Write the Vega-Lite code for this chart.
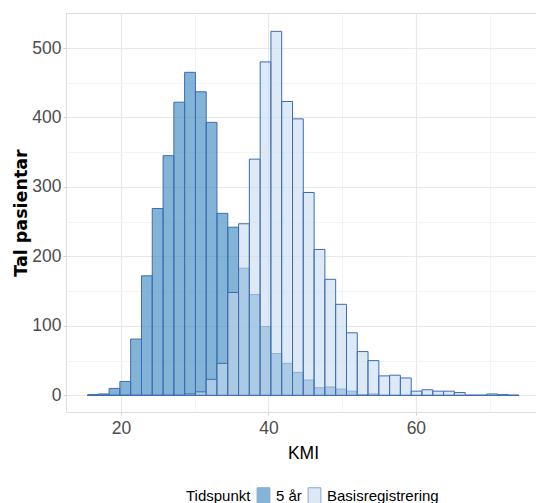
{
  "$schema": "https://vega.github.io/schema/vega-lite/v6.json",
  "autosize": {"type": "none"},
  "padding": {"left": 66, "top": 13, "right": 0, "bottom": 91},
  "width": 474,
  "height": 399,
  "background": "white",
  "config": {
    "view": {"stroke": "#dedede", "strokeWidth": 1},
    "font": "Liberation Sans, Arial, sans-serif"
  },
  "datasets": {
    "kmi": [
      {"t": "5 år", "lo": 15.46, "hi": 16.92, "n": 1},
      {"t": "5 år", "lo": 16.92, "hi": 18.39, "n": 2},
      {"t": "5 år", "lo": 18.39, "hi": 19.85, "n": 10},
      {"t": "5 år", "lo": 19.85, "hi": 21.31, "n": 20},
      {"t": "5 år", "lo": 21.31, "hi": 22.78, "n": 81},
      {"t": "5 år", "lo": 22.78, "hi": 24.24, "n": 172},
      {"t": "5 år", "lo": 24.24, "hi": 25.71, "n": 269},
      {"t": "5 år", "lo": 25.71, "hi": 27.17, "n": 345},
      {"t": "5 år", "lo": 27.17, "hi": 28.63, "n": 422},
      {"t": "5 år", "lo": 28.63, "hi": 30.10, "n": 465},
      {"t": "5 år", "lo": 30.10, "hi": 31.56, "n": 437},
      {"t": "5 år", "lo": 31.56, "hi": 33.02, "n": 393},
      {"t": "5 år", "lo": 33.02, "hi": 34.49, "n": 262},
      {"t": "5 år", "lo": 34.49, "hi": 35.95, "n": 242},
      {"t": "5 år", "lo": 35.95, "hi": 37.41, "n": 183},
      {"t": "5 år", "lo": 37.41, "hi": 38.88, "n": 145},
      {"t": "5 år", "lo": 38.88, "hi": 40.34, "n": 99},
      {"t": "5 år", "lo": 40.34, "hi": 41.80, "n": 60},
      {"t": "5 år", "lo": 41.80, "hi": 43.27, "n": 46},
      {"t": "5 år", "lo": 43.27, "hi": 44.73, "n": 33},
      {"t": "5 år", "lo": 44.73, "hi": 46.20, "n": 22},
      {"t": "5 år", "lo": 46.20, "hi": 47.66, "n": 11},
      {"t": "5 år", "lo": 47.66, "hi": 49.12, "n": 12},
      {"t": "5 år", "lo": 49.12, "hi": 50.59, "n": 9},
      {"t": "5 år", "lo": 50.59, "hi": 52.05, "n": 6},
      {"t": "5 år", "lo": 52.05, "hi": 53.51, "n": 1},
      {"t": "5 år", "lo": 53.51, "hi": 54.98, "n": 2},
      {"t": "5 år", "lo": 54.98, "hi": 56.44, "n": 0},
      {"t": "5 år", "lo": 56.44, "hi": 57.90, "n": 0},
      {"t": "5 år", "lo": 57.90, "hi": 59.37, "n": 0},
      {"t": "5 år", "lo": 59.37, "hi": 60.83, "n": 0},
      {"t": "5 år", "lo": 60.83, "hi": 62.30, "n": 0},
      {"t": "5 år", "lo": 62.30, "hi": 63.76, "n": 0},
      {"t": "5 år", "lo": 63.76, "hi": 65.22, "n": 0},
      {"t": "5 år", "lo": 65.22, "hi": 66.69, "n": 0},
      {"t": "5 år", "lo": 66.69, "hi": 68.15, "n": 0},
      {"t": "5 år", "lo": 68.15, "hi": 69.61, "n": 0},
      {"t": "5 år", "lo": 69.61, "hi": 71.08, "n": 0},
      {"t": "5 år", "lo": 71.08, "hi": 72.54, "n": 0},
      {"t": "5 år", "lo": 72.54, "hi": 74.00, "n": 0},
      {"t": "Basisregistrering", "lo": 15.46, "hi": 16.92, "n": 0},
      {"t": "Basisregistrering", "lo": 16.92, "hi": 18.39, "n": 0},
      {"t": "Basisregistrering", "lo": 18.39, "hi": 19.85, "n": 0},
      {"t": "Basisregistrering", "lo": 19.85, "hi": 21.31, "n": 0},
      {"t": "Basisregistrering", "lo": 21.31, "hi": 22.78, "n": 0},
      {"t": "Basisregistrering", "lo": 22.78, "hi": 24.24, "n": 0},
      {"t": "Basisregistrering", "lo": 24.24, "hi": 25.71, "n": 0},
      {"t": "Basisregistrering", "lo": 25.71, "hi": 27.17, "n": 0},
      {"t": "Basisregistrering", "lo": 27.17, "hi": 28.63, "n": 0},
      {"t": "Basisregistrering", "lo": 28.63, "hi": 30.10, "n": 2},
      {"t": "Basisregistrering", "lo": 30.10, "hi": 31.56, "n": 5},
      {"t": "Basisregistrering", "lo": 31.56, "hi": 33.02, "n": 23},
      {"t": "Basisregistrering", "lo": 33.02, "hi": 34.49, "n": 46},
      {"t": "Basisregistrering", "lo": 34.49, "hi": 35.95, "n": 148},
      {"t": "Basisregistrering", "lo": 35.95, "hi": 37.41, "n": 247},
      {"t": "Basisregistrering", "lo": 37.41, "hi": 38.88, "n": 340},
      {"t": "Basisregistrering", "lo": 38.88, "hi": 40.34, "n": 480},
      {"t": "Basisregistrering", "lo": 40.34, "hi": 41.80, "n": 524},
      {"t": "Basisregistrering", "lo": 41.80, "hi": 43.27, "n": 423},
      {"t": "Basisregistrering", "lo": 43.27, "hi": 44.73, "n": 398},
      {"t": "Basisregistrering", "lo": 44.73, "hi": 46.20, "n": 292},
      {"t": "Basisregistrering", "lo": 46.20, "hi": 47.66, "n": 210},
      {"t": "Basisregistrering", "lo": 47.66, "hi": 49.12, "n": 167},
      {"t": "Basisregistrering", "lo": 49.12, "hi": 50.59, "n": 131},
      {"t": "Basisregistrering", "lo": 50.59, "hi": 52.05, "n": 90},
      {"t": "Basisregistrering", "lo": 52.05, "hi": 53.51, "n": 63},
      {"t": "Basisregistrering", "lo": 53.51, "hi": 54.98, "n": 50},
      {"t": "Basisregistrering", "lo": 54.98, "hi": 56.44, "n": 28},
      {"t": "Basisregistrering", "lo": 56.44, "hi": 57.90, "n": 29},
      {"t": "Basisregistrering", "lo": 57.90, "hi": 59.37, "n": 25},
      {"t": "Basisregistrering", "lo": 59.37, "hi": 60.83, "n": 6},
      {"t": "Basisregistrering", "lo": 60.83, "hi": 62.30, "n": 8},
      {"t": "Basisregistrering", "lo": 62.30, "hi": 63.76, "n": 6},
      {"t": "Basisregistrering", "lo": 63.76, "hi": 65.22, "n": 6},
      {"t": "Basisregistrering", "lo": 65.22, "hi": 66.69, "n": 4},
      {"t": "Basisregistrering", "lo": 66.69, "hi": 68.15, "n": 0},
      {"t": "Basisregistrering", "lo": 68.15, "hi": 69.61, "n": 0},
      {"t": "Basisregistrering", "lo": 69.61, "hi": 71.08, "n": 2},
      {"t": "Basisregistrering", "lo": 71.08, "hi": 72.54, "n": 1},
      {"t": "Basisregistrering", "lo": 72.54, "hi": 74.00, "n": 0}
    ]
  },
  "data": {"name": "kmi"},
  "mark": {
    "type": "bar",
    "fillOpacity": 0.6,
    "stroke": "#3d6cb3",
    "strokeWidth": 1,
    "clip": true
  },
  "encoding": {
    "x": {
      "field": "lo",
      "type": "quantitative",
      "scale": {"domain": [12.54, 76.84], "nice": false, "zero": false},
      "axis": {
        "title": "KMI",
        "values": [20, 30, 40, 50, 60, 70],
        "labelExpr": "datum.value % 20 === 0 ? datum.label : ''",
        "domain": false,
        "tickSize": 3,
        "tickColor": {"condition": {"test": "datum.value % 20 === 0", "value": "#cfcfcf"}, "value": "transparent"},
        "gridColor": {"condition": {"test": "datum.value % 20 === 0", "value": "#e8e8e8"}, "value": "#f4f4f4"},
        "gridWidth": {"condition": {"test": "datum.value % 20 === 0", "value": 1.2}, "value": 1},
        "labelFontSize": 17.5,
        "labelColor": "#4d4d4d",
        "labelPadding": 4,
        "labelOverlap": false,
        "titleFontSize": 17.5,
        "titleFontWeight": "normal",
        "titleColor": "#000000",
        "titlePadding": 8
      }
    },
    "x2": {"field": "hi"},
    "y": {
      "field": "n",
      "type": "quantitative",
      "stack": null,
      "scale": {"domain": [-24, 550.4], "nice": false, "zero": false},
      "axis": {
        "title": "Tal pasientar",
        "values": [0, 50, 100, 150, 200, 250, 300, 350, 400, 450, 500],
        "labelExpr": "datum.value % 100 === 0 ? datum.label : ''",
        "domain": false,
        "tickSize": 3,
        "tickColor": {"condition": {"test": "datum.value % 100 === 0", "value": "#cfcfcf"}, "value": "transparent"},
        "gridColor": {"condition": {"test": "datum.value % 100 === 0", "value": "#e8e8e8"}, "value": "#f4f4f4"},
        "gridWidth": {"condition": {"test": "datum.value % 100 === 0", "value": 1.2}, "value": 1},
        "labelFontSize": 17.5,
        "labelColor": "#4d4d4d",
        "labelPadding": 2,
        "labelOverlap": false,
        "titleFont": "DejaVu Sans",
        "titleFontSize": 17.5,
        "titleFontWeight": "bold",
        "titleColor": "#000000",
        "titlePadding": 1
      }
    },
    "y2": {"datum": 0},
    "fill": {
      "field": "t",
      "type": "nominal",
      "scale": {"domain": ["5 år", "Basisregistrering"], "range": ["#3182bd", "#c6dbef"]},
      "legend": {
        "title": "Tidspunkt",
        "orient": "none",
        "legendX": 120,
        "legendY": 474,
        "direction": "horizontal",
        "titleOrient": "left",
        "titleFontSize": 15,
        "titleFontWeight": "normal",
        "titleColor": "#000000",
        "titlePadding": 4,
        "labelFontSize": 15,
        "labelColor": "#000000",
        "labelOffset": 4,
        "columnPadding": 4,
        "symbolType": "M-0.8,-1L0.8,-1L0.8,1L-0.8,1Z",
        "symbolSize": 256,
        "symbolStrokeColor": "#3d6cb3",
        "symbolStrokeWidth": 1,
        "symbolOpacity": 0.6
      }
    }
  }
}
